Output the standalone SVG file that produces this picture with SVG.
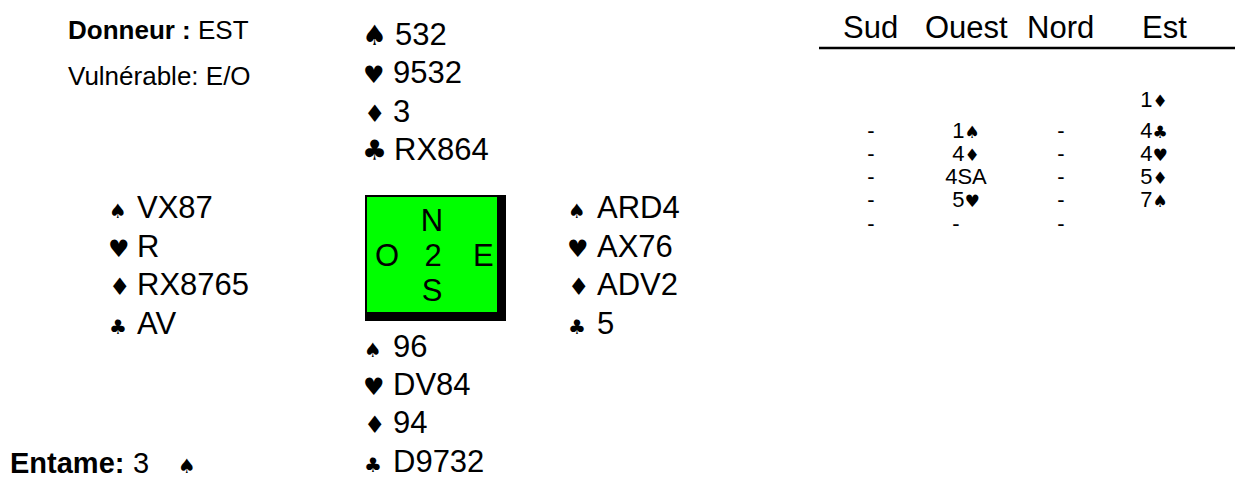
<svg xmlns="http://www.w3.org/2000/svg" width="1235" height="493" viewBox="0 0 1235 493">
<style>
text{font-family:"Liberation Sans",Arial,sans-serif;fill:#000}
.h{font-size:31px}
.s{font-family:"DejaVu Sans",sans-serif;font-size:24px}
.ss{font-family:"DejaVu Sans",sans-serif;font-size:20px}
.sb{font-family:"DejaVu Sans",sans-serif;font-size:28px}
.lbl{font-size:26px}
.b{font-weight:bold}
.bid{font-size:22px;text-anchor:middle}
.bs{font-family:"DejaVu Sans",sans-serif;font-size:17px}
.hdr{font-size:31px}
.c{text-anchor:middle}
</style>
<rect width="1235" height="493" fill="#fff"/>
<g id="info">
<text class="lbl" x="68" y="39"><tspan class="b">Donneur :</tspan> EST</text>
<text class="lbl" x="68" y="85">Vulnérable: E/O</text>
</g>
<g id="north">
<text class="sb" x="362" y="45">♠</text><text class="h" x="395" y="45">532</text>
<text class="s" x="363" y="83">♥</text><text class="h" x="393" y="83">9532</text>
<text class="s" x="364" y="122">♦</text><text class="h" x="393" y="122">3</text>
<text class="sb" x="362" y="160">♣</text><text class="h" x="394" y="160">RX864</text>
</g>
<g id="west">
<text class="ss" x="109" y="218">♠</text><text class="h" x="137" y="218">VX87</text>
<text class="s" x="108" y="257">♥</text><text class="h" x="137" y="257">R</text>
<text class="s" x="109" y="295">♦</text><text class="h" x="137" y="295">RX8765</text>
<text class="ss" x="109" y="334">♣</text><text class="h" x="137" y="334">AV</text>
</g>
<g id="east">
<text class="ss" x="568" y="218">♠</text><text class="h" x="597" y="218">ARD4</text>
<text class="s" x="567" y="257">♥</text><text class="h" x="597" y="257">AX76</text>
<text class="s" x="568" y="295">♦</text><text class="h" x="597" y="295">ADV2</text>
<text class="ss" x="568" y="334">♣</text><text class="h" x="597" y="334">5</text>
</g>
<g id="south">
<text class="ss" x="364" y="357">♠</text><text class="h" x="393" y="357">96</text>
<text class="s" x="363" y="395">♥</text><text class="h" x="393" y="395">DV84</text>
<text class="s" x="364" y="433">♦</text><text class="h" x="393" y="433">94</text>
<text class="ss" x="364" y="472">♣</text><text class="h" x="393" y="472">D9732</text>
</g>
<g id="table">
<rect x="365" y="195" width="141" height="126" fill="#000"/>
<rect x="367" y="197" width="130" height="115" fill="#00ff00"/>
<text class="h c" x="432" y="231">N</text>
<text class="h" x="375" y="266">O</text>
<text class="h c" x="433" y="266">2</text>
<text class="h" x="473" y="266">E</text>
<text class="h c" x="432" y="301">S</text>
</g>
<g id="lead">
<text class="h b" x="10" y="473" style="font-size:29px">Entame:</text>
<text class="h" x="133" y="473" style="font-size:29px">3</text>
<text class="ss" x="178" y="473">♠</text>
</g>
<g id="bidding">
<text class="hdr" x="843" y="38">Sud</text>
<text class="hdr" x="925" y="38">Ouest</text>
<text class="hdr" x="1027" y="38">Nord</text>
<text class="hdr" x="1142" y="38">Est</text>
<line x1="819" y1="48" x2="1235" y2="48" stroke="#000" stroke-width="2.5"/>
<text class="bid" x="1154" y="107">1<tspan class="bs">♦</tspan></text>
<text class="bid" x="871" y="138">-</text>
<text class="bid" x="966" y="138">1<tspan class="bs">♠</tspan></text>
<text class="bid" x="1061" y="138">-</text>
<text class="bid" x="1154" y="138">4<tspan class="bs">♣</tspan></text>
<text class="bid" x="871" y="161">-</text>
<text class="bid" x="966" y="161">4<tspan class="bs">♦</tspan></text>
<text class="bid" x="1061" y="161">-</text>
<text class="bid" x="1154" y="161">4<tspan class="bs">♥</tspan></text>
<text class="bid" x="871" y="184">-</text>
<text class="bid" x="966" y="184">4SA</text>
<text class="bid" x="1061" y="184">-</text>
<text class="bid" x="1154" y="184">5<tspan class="bs">♦</tspan></text>
<text class="bid" x="871" y="207">-</text>
<text class="bid" x="966" y="207">5<tspan class="bs">♥</tspan></text>
<text class="bid" x="1061" y="207">-</text>
<text class="bid" x="1154" y="207">7<tspan class="bs">♠</tspan></text>
<text class="bid" x="871" y="231">-</text>
<text class="bid" x="956" y="231">-</text>
<text class="bid" x="1061" y="231">-</text>
</g>
</svg>
